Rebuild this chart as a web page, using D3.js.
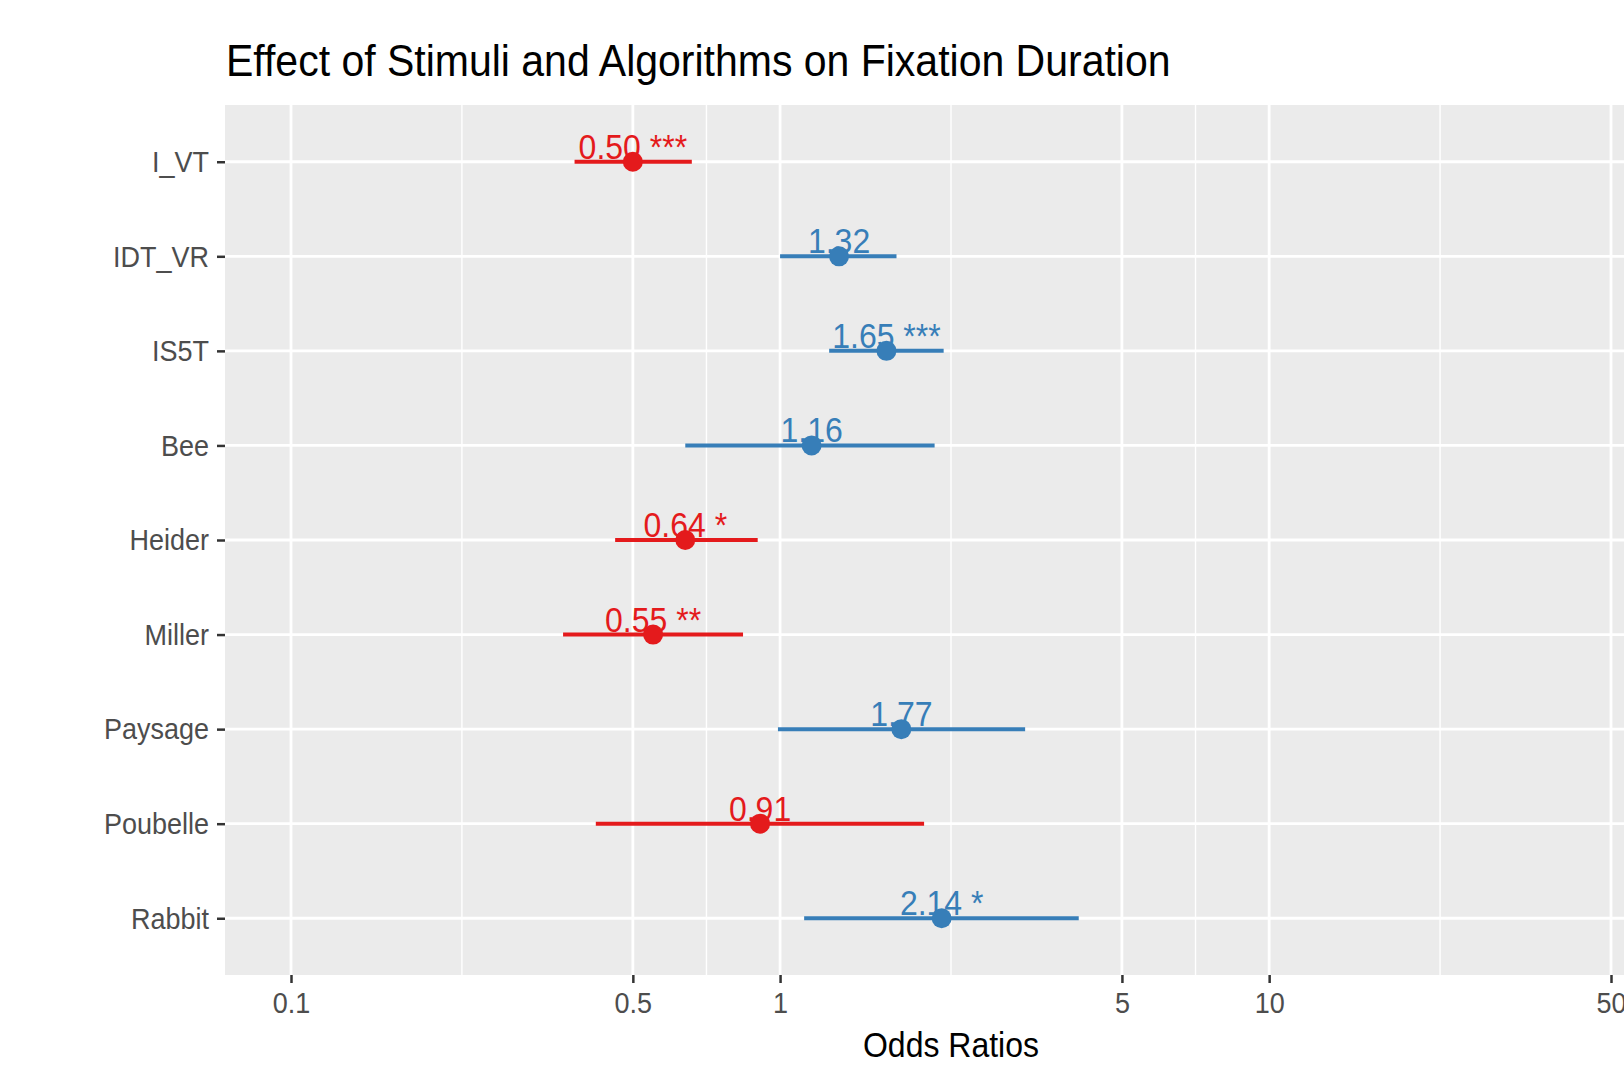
<!DOCTYPE html>
<html>
<head>
<meta charset="utf-8">
<script src="https://cdn.jsdelivr.net/npm/d3@7"></script>
<style>
  body { margin: 0; background: #fff; }
  svg { display: block; font-family: "Liberation Sans", Arial, sans-serif; }
</style>
</head>
<body>
<svg id="chart"></svg>
<script>
// model terms, top to bottom
const terms = ["I_VT", "IDT_VR", "IS5T", "Bee", "Heider", "Miller", "Paysage", "Poubelle", "Rabbit"];
const estimates = [0.50, 1.32, 1.65, 1.16, 0.64, 0.55, 1.77, 0.91, 2.14];
const ciLow = [0.38, 1.00, 1.26, 0.64, 0.46, 0.36, 0.99, 0.42, 1.12];
const ciHigh = [0.66, 1.73, 2.16, 2.07, 0.90, 0.84, 3.17, 1.97, 4.08];
const stars = ["***", "", "***", "", "*", "**", "", "", "*"];
const xTicks = [0.1, 0.5, 1, 5, 10, 50];
const xLimits = [0.1, 50];

width = 1624
height = 1065
const panel = { left: 225, right: 1677, top: 105, bottom: 975 };
const stretch = "scale(1,1.07)"; // text in the original is a bit taller than Liberation

function color(d) {
  return d.est < 1 ? "#E41A1C" : "#377EB8";
}

const data = terms.map(function (t, i) {
  return { term: t, est: estimates[i], lo: ciLow[i], hi: ciHigh[i], p: stars[i] };
});

// ggplot style 5% expansion in log space
const l0 = Math.log10(xLimits[0]), l1 = Math.log10(xLimits[1]);
const pad = (l1 - l0) * 0.05;
const x = d3.scaleLog()
    .domain([Math.pow(10, l0 - pad), Math.pow(10, l1 + pad)])
    .range([panel.left, panel.right]);

const y = d3.scalePoint()
    .domain(terms)
    .range([panel.top, panel.bottom])
    .padding(0.6);

// minor breaks halfway between majors (log space)
const minor = d3.pairs(xTicks).map(function (p) { return Math.sqrt(p[0] * p[1]) });

const svg = d3.select("#chart")
    .attr("width", width)
    .attr("height", height);

svg.append("rect")
    .attr("x", panel.left)
    .attr("y", panel.top)
    .attr("width", panel.right - panel.left)
    .attr("height", panel.bottom - panel.top)
    .attr("fill", "#EBEBEB");

const grid = svg.append("g").attr("stroke", "#fff");

grid.selectAll("line.minor")
  .data(minor)
  .join("line")
    .attr("class", "minor")
    .attr("x1", function (d) { return x(d) })
    .attr("x2", function (d) { return x(d) })
    .attr("y1", panel.top)
    .attr("y2", panel.bottom)
    .attr("stroke-width", 1.4);

grid.selectAll("line.vmajor")
  .data(xTicks)
  .join("line")
    .attr("class", "vmajor")
    .attr("x1", function (d) { return x(d) })
    .attr("x2", function (d) { return x(d) })
    .attr("y1", panel.top)
    .attr("y2", panel.bottom)
    .attr("stroke-width", 2.8);

grid.selectAll("line.hmajor")
  .data(terms)
  .join("line")
    .attr("class", "hmajor")
    .attr("x1", panel.left)
    .attr("x2", panel.right)
    .attr("y1", function (d) { return y(d) })
    .attr("y2", function (d) { return y(d) })
    .attr("stroke-width", 2.8);

// confidence intervals
svg.append("g")
    .attr("stroke-width", 4)
  .selectAll("line")
  .data(data)
  .join("line")
    .attr("x1", function (d) { return x(d.lo) })
    .attr("x2", function (d) { return x(d.hi) })
    .attr("y1", function (d) { return y(d.term) })
    .attr("y2", function (d) { return y(d.term) })
    .attr("stroke", color);

// estimate labels
svg.append("g")
    .attr("font-size", 32)
    .attr("text-anchor", "middle")
  .selectAll("text")
  .data(data)
  .join("text")
    .attr("transform", function (d) { return "translate(" + x(d.est) + "," + (y(d.term) - 3) + ") " + stretch })
    .attr("fill", color)
    .text(function (d) { return d3.format(".2f")(d.est) + (d.p ? " " + d.p : "") });

svg.append("g")
  .selectAll("circle")
  .data(data)
  .join("circle")
    .attr("cx", function (d) { return x(d.est) })
    .attr("cy", function (d) { return y(d.term) })
    .attr("r", 10)
    .attr("fill", color);

// y axis
const yAxis = svg.append("g")
    .attr("transform", "translate(" + panel.left + ",0)")
    .call(d3.axisLeft(y).tickSize(8).tickPadding(8));
yAxis.select(".domain").remove();
yAxis.selectAll(".tick line").attr("stroke", "#333").attr("stroke-width", 2.5);
yAxis.selectAll(".tick text")
    .attr("fill", "#4D4D4D")
    .attr("font-size", 27)
    .attr("font-family", "Liberation Sans, Arial, sans-serif")
    .attr("dy", "0.34em")
    .attr("transform", stretch);

// x axis
const xAxis = svg.append("g")
    .attr("transform", "translate(0," + panel.bottom + ")")
    .call(d3.axisBottom(x).tickValues(xTicks).tickFormat(d3.format("~g")).tickSize(8).tickPadding(8));
xAxis.select(".domain").remove();
xAxis.selectAll(".tick line").attr("stroke", "#333").attr("stroke-width", 2.5);
xAxis.selectAll(".tick text")
    .attr("fill", "#4D4D4D")
    .attr("font-size", 27)
    .attr("font-family", "Liberation Sans, Arial, sans-serif")
    .attr("transform", stretch);

svg.append("text")
    .attr("transform", "translate(" + (panel.left + panel.right) / 2 + ",1057) " + stretch)
    .attr("text-anchor", "middle")
    .attr("font-size", 32)
    .attr("fill", "#000")
    .text("Odds Ratios");

svg.append("text")
    .attr("transform", "translate(226,76) " + stretch)
    .attr("font-size", 41)
    .attr("fill", "#000")
    .text("Effect of Stimuli and Algorithms on Fixation Duration");
</script>
</body>
</html>
